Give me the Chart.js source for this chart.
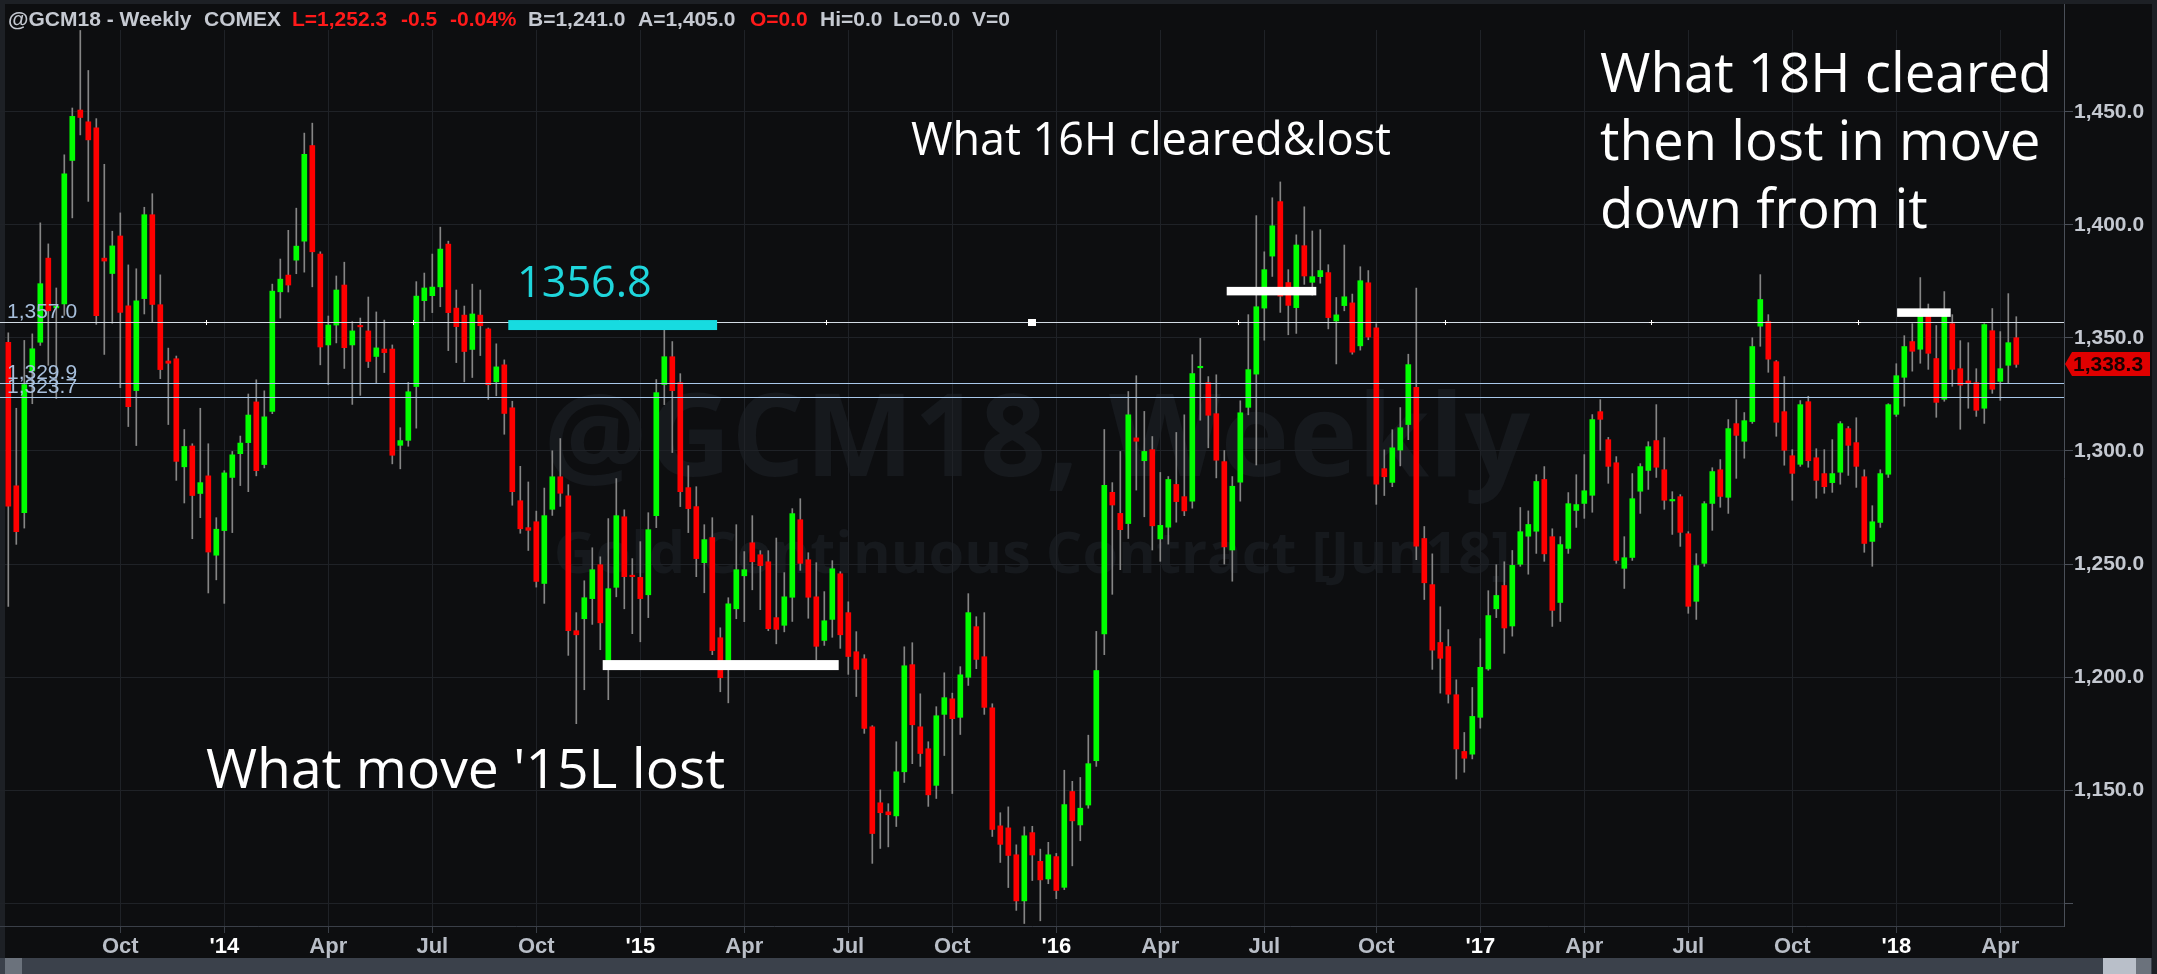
<!DOCTYPE html>
<html>
<head>
<meta charset="utf-8">
<script src="https://cdn.jsdelivr.net/npm/chart.js@4.4.1/dist/chart.umd.min.js"></script>
<style>
  html, body { margin: 0; padding: 0; background: #0d0e10; overflow: hidden; }
  canvas { display: block; }
</style>
</head>
<body>
<canvas id="gc" width="2157" height="974"></canvas>
<script>
// weekly bars, one per Friday starting 2013-06-28
const opens = [
  1348.1,1284.6,1272.7,1335.4,1348.1,1385.3,1363.3,1365.0,1428.5,1450.8,
  1445.6,1442.9,1385.3,1378.5,1395.1,1364.2,1326.7,1367.4,1404.5,1364.7,
  1339.8,1340.8,1293.0,1302.2,1281.2,1289.0,1253.9,1264.8,1288.3,1298.8,
  1303.7,1321.7,1294.0,1317.5,1370.4,1377.8,1384.4,1392.8,1435.1,1387.1,
  1346.9,1355.7,1373.4,1346.9,1355.3,1353.1,1341.8,1345.1,1345.1,1302.5,
  1304.7,1328.5,1366.5,1368.7,1372.6,1391.5,1363.2,1360.1,1344.9,1360.1,
  1354.0,1330.6,1338.1,1319.1,1278.0,1266.1,1268.7,1241.4,1274.2,1288.6,
  1280.2,1220.5,1225.8,1234.7,1249.7,1206.9,1239.7,1270.9,1244.8,1244.1,
  1236.4,1271.4,1329.4,1341.7,1330.2,1283.8,1275.4,1250.6,1261.7,1217.4,
  1206.2,1230.2,1244.8,1259.4,1254.1,1251.0,1226.3,1222.9,1235.3,1269.6,
  1251.9,1235.5,1216.2,1225.5,1245.7,1228.5,1211.2,1208.1,1178.0,1144.4,
  1140.4,1138.6,1158.1,1205.5,1178.0,1168.3,1152.1,1183.5,1190.4,1182.2,
  1199.9,1222.3,1209.0,1186.4,1134.2,1133.3,1121.4,1101.0,1131.2,1118.5,
  1110.7,1120.6,1107.0,1149.4,1134.6,1143.4,1163.0,1219.1,1281.7,1272.4,
  1267.9,1305.8,1295.7,1300.6,1261.1,1266.3,1285.2,1279.8,1277.8,1336.8,
  1330.2,1316.5,1295.3,1256.2,1286.2,1319.3,1334.0,1363.2,1386.2,1410.3,
  1374.5,1363.4,1390.8,1374.6,1377.1,1378.9,1357.5,1364.3,1365.5,1346.5,
  1374.4,1354.5,1292.2,1286.1,1300.4,1311.7,1328.1,1261.3,1240.9,1215.3,
  1213.5,1192.2,1167.1,1165.9,1182.2,1203.6,1230.2,1240.5,1222.6,1249.9,
  1262.3,1264.5,1287.4,1262.1,1233.0,1256.9,1273.7,1276.8,1280.4,1317.4,
  1305.0,1294.8,1248.1,1252.9,1282.2,1291.4,1304.6,1291.7,1277.9,1279.8,
  1263.4,1233.5,1250.3,1276.8,1291.7,1279.5,1312.1,1304.3,1313.0,1355.2,
  1357.2,1339.5,1317.4,1297.9,1294.1,1321.8,1297.0,1290.0,1286.0,1290.6,
  1309.9,1303.7,1288.6,1260.0,1268.4,1289.7,1316.2,1332.6,1348.4,1345.0,
  1361.0,1340.9,1322.9,1356.3,1336.4,1331.0,1330.2,1318.9,1353.2,1330.8,
  1337.9,1350.1
];
const highs = [
  1352.3,1318.9,1348.9,1351.8,1400.9,1391.6,1372.1,1431.0,1451.7,1486.0,
  1468.3,1447.0,1426.8,1397.2,1405.3,1382.3,1380.6,1407.8,1413.8,1377.9,
  1345.5,1342.0,1309.5,1303.2,1318.9,1303.2,1270.5,1291.3,1299.8,1306.6,
  1325.2,1331.5,1326.6,1373.8,1384.9,1397.6,1407.4,1440.6,1445.0,1388.1,
  1359.7,1377.4,1383.5,1357.2,1358.8,1368.1,1361.5,1357.9,1346.9,1310.3,
  1330.3,1374.9,1378.7,1387.1,1399.0,1392.8,1371.2,1364.1,1373.8,1371.2,
  1354.4,1347.4,1340.3,1322.0,1293.2,1286.3,1273.4,1283.6,1300.1,1305.5,
  1285.1,1228.5,1242.6,1257.2,1253.2,1270.1,1287.8,1274.0,1252.4,1259.9,
  1272.7,1331.6,1354.0,1348.4,1334.2,1293.5,1284.2,1267.4,1270.5,1221.8,
  1235.1,1267.4,1255.5,1271.4,1255.9,1255.9,1261.5,1246.2,1274.5,1278.9,
  1255.0,1250.6,1237.8,1251.5,1246.6,1233.3,1220.1,1209.9,1178.5,1150.1,
  1144.0,1171.4,1213.4,1215.2,1192.6,1171.4,1186.9,1201.9,1192.9,1204.6,
  1236.9,1226.7,1228.5,1188.2,1140.0,1142.6,1125.8,1133.8,1134.0,1123.9,
  1126.9,1122.0,1158.8,1153.9,1155.6,1174.3,1220.2,1309.5,1286.0,1299.8,
  1326.3,1333.3,1317.5,1306.4,1290.5,1288.7,1308.2,1316.0,1342.6,1349.8,
  1332.9,1333.7,1300.2,1288.7,1322.2,1360.3,1404.1,1388.1,1412.0,1419.0,
  1380.2,1395.6,1408.0,1397.3,1397.9,1382.4,1367.9,1391.1,1369.4,1381.5,
  1379.8,1356.3,1300.5,1309.4,1319.2,1342.8,1372.1,1266.6,1254.5,1231.1,
  1221.0,1198.8,1175.5,1195.4,1217.0,1238.2,1249.7,1251.0,1256.0,1275.0,
  1273.5,1289.5,1293.1,1265.6,1262.1,1281.6,1289.5,1298.4,1316.1,1322.7,
  1306.0,1297.5,1262.1,1290.0,1294.4,1304.1,1320.5,1305.9,1282.0,1280.7,
  1264.3,1254.6,1277.6,1292.6,1296.2,1313.9,1322.7,1317.0,1350.1,1378.0,
  1360.3,1340.0,1332.9,1300.6,1322.3,1324.2,1301.0,1300.6,1305.0,1313.0,
  1310.8,1314.7,1291.7,1275.8,1291.7,1320.9,1338.6,1351.0,1356.3,1376.7,
  1365.0,1355.5,1370.5,1360.3,1348.8,1347.9,1336.4,1356.3,1363.0,1352.8,
  1369.6,1359.4
];
const lows = [
  1231.2,1258.7,1265.9,1320.9,1346.7,1337.9,1323.2,1360.0,1403.1,1439.8,
  1410.4,1356.0,1342.7,1356.5,1328.0,1310.8,1302.4,1360.6,1357.0,1332.0,
  1311.7,1287.0,1277.0,1261.2,1270.5,1237.2,1243.0,1232.6,1263.9,1284.7,
  1282.0,1289.0,1292.5,1316.5,1358.8,1370.3,1378.4,1379.1,1372.6,1338.1,
  1329.3,1347.8,1336.5,1320.6,1324.6,1336.9,1329.9,1334.7,1294.3,1292.1,
  1302.1,1310.1,1357.5,1361.2,1363.8,1344.4,1339.1,1330.6,1332.5,1342.2,
  1322.8,1324.4,1307.4,1276.0,1263.6,1256.0,1239.8,1232.6,1271.5,1275.5,
  1209.6,1179.4,1194.4,1223.3,1212.1,1190.0,1235.5,1230.2,1219.2,1215.6,
  1226.3,1266.1,1320.5,1299.3,1275.4,1263.9,1244.4,1237.3,1209.9,1193.5,
  1188.6,1225.8,1224.5,1238.6,1229.8,1220.5,1214.7,1220.0,1224.6,1247.2,
  1226.0,1207.7,1214.0,1217.6,1212.7,1201.2,1191.4,1175.1,1117.6,1124.2,
  1124.9,1133.9,1153.4,1161.7,1160.5,1142.8,1146.3,1165.3,1148.5,1174.6,
  1196.3,1203.7,1183.5,1129.5,1118.0,1106.9,1096.8,1091.0,1110.0,1092.2,
  1108.6,1102.0,1106.0,1116.5,1127.6,1142.0,1160.5,1209.9,1236.6,1247.5,
  1261.3,1282.7,1270.9,1256.2,1251.2,1258.8,1268.5,1271.4,1274.7,1313.6,
  1301.4,1288.1,1250.0,1242.4,1277.8,1316.0,1293.8,1349.0,1377.2,1361.3,
  1351.4,1352.0,1373.7,1368.9,1374.2,1354.0,1338.5,1362.0,1342.8,1344.6,
  1349.2,1276.4,1280.3,1284.2,1293.4,1305.0,1251.9,1234.3,1203.4,1192.9,
  1188.5,1154.9,1157.9,1163.8,1177.4,1203.0,1226.3,1210.5,1218.1,1249.0,
  1245.5,1254.7,1251.2,1222.4,1224.6,1254.7,1266.2,1270.2,1272.9,1300.3,
  1285.7,1250.3,1239.2,1251.6,1272.4,1283.0,1288.3,1274.2,1263.1,1257.8,
  1228.2,1225.5,1249.0,1264.9,1275.1,1272.4,1287.9,1296.8,1312.2,1346.3,
  1334.8,1306.5,1293.7,1278.2,1293.2,1292.8,1279.1,1281.3,1281.7,1285.3,
  1289.2,1283.9,1255.2,1249.0,1266.2,1288.3,1315.3,1319.8,1335.3,1338.8,
  1336.1,1314.9,1322.0,1328.6,1309.6,1318.9,1315.3,1312.2,1325.5,1322.4,
  1329.9,1337.0
];
const closes = [
  1275.6,1264.3,1329.4,1345.2,1374.0,1362.0,1364.0,1422.6,1448.0,1447.5,
  1437.6,1359.9,1384.0,1390.7,1361.3,1319.6,1366.4,1404.5,1364.8,1336.0,
  1338.8,1295.4,1302.0,1280.3,1286.0,1255.3,1265.4,1290.3,1298.3,1303.5,
  1315.9,1291.3,1315.1,1370.7,1376.0,1373.4,1390.6,1431.2,1388.1,1346.0,
  1355.7,1371.2,1345.7,1353.1,1354.9,1339.6,1345.6,1343.5,1298.1,1304.6,
  1326.2,1368.5,1372.1,1372.5,1389.3,1361.2,1355.0,1344.0,1360.6,1355.4,
  1329.3,1337.2,1316.6,1282.0,1265.6,1264.9,1242.3,1271.4,1288.6,1281.3,
  1220.5,1218.7,1235.1,1247.5,1224.0,1239.1,1271.4,1244.4,1244.4,1234.7,
  1265.2,1325.8,1341.7,1326.7,1282.0,1274.5,1252.4,1260.8,1211.7,1199.7,
  1232.4,1247.5,1247.5,1251.0,1249.3,1221.4,1221.1,1235.5,1272.3,1250.3,
  1235.3,1213.6,1224.9,1247.9,1218.7,1209.1,1203.4,1177.3,1130.8,1140.0,
  1139.1,1158.1,1205.0,1178.9,1166.2,1147.9,1182.9,1190.9,1181.6,1201.0,
  1228.5,1207.8,1186.6,1132.6,1126.0,1121.1,1101.0,1129.8,1121.3,1110.3,
  1121.4,1105.6,1143.6,1136.4,1142.0,1161.7,1202.9,1284.8,1276.1,1265.2,
  1316.0,1304.3,1299.8,1266.9,1267.1,1287.4,1277.6,1273.5,1334.2,1337.2,
  1315.8,1295.9,1257.6,1284.4,1316.9,1336.0,1363.8,1380.2,1399.6,1368.5,
  1364.4,1391.1,1377.4,1377.1,1379.8,1359.0,1360.2,1368.2,1343.7,1375.3,
  1350.4,1285.3,1288.6,1301.4,1310.3,1338.2,1257.9,1241.7,1211.9,1208.3,
  1192.4,1168.2,1164.1,1182.6,1204.3,1227.2,1236.1,1221.7,1249.4,1264.3,
  1267.5,1286.5,1254.5,1229.5,1258.6,1276.7,1276.3,1282.4,1313.9,1314.0,
  1293.2,1251.6,1252.8,1278.9,1293.1,1301.9,1292.8,1278.2,1278.2,1264.0,
  1231.3,1249.3,1276.7,1290.9,1279.9,1309.9,1306.9,1313.4,1346.2,1367.0,
  1340.6,1312.7,1300.3,1290.1,1320.5,1295.7,1287.0,1284.2,1290.0,1312.1,
  1302.5,1293.2,1259.1,1268.7,1290.0,1320.5,1333.3,1346.2,1344.1,1359.9,
  1343.2,1321.5,1360.3,1336.1,1329.1,1329.9,1318.0,1355.9,1327.3,1336.4,
  1347.9,1338.3
];

// price levels drawn across the chart and their tags
const levelPrices = [1357.0, 1329.9, 1323.7];
// marked ranges: start week, end week, price
const zoneFrom = [62.5, 74.3, 152.3, 236.1];
const zoneTo = [88.6, 103.8, 163.5, 242.8];
const zonePrice = [1355.7, 1205.3, 1370.7, 1361.2];

const yTicks = [1100, 1150, 1200, 1250, 1300, 1350, 1400, 1450];
const monthNames = ['Jan','Feb','Mar','Apr','May','Jun','Jul','Aug','Sep','Oct','Nov','Dec'];

const firstWeek = Date.UTC(2013, 5, 28);
const weeks = opens.map((o, i) => new Date(firstWeek + i * 7 * 86400000));

// quarter starts get an x label
let quarterIdx = [];
let quarterLabels = {};
weeks.forEach((d, i) => {
  if (i < 5) return;
  const m = d.getUTCMonth();
  if (m !== weeks[i - 1].getUTCMonth() && m % 3 === 0) {
    quarterIdx.push(i);
    quarterLabels[i] = m === 0 ? "'" + String(d.getUTCFullYear()).slice(2) : monthNames[m];
  }
});

const fmt = v => v.toLocaleString('en-US', { minimumFractionDigits: 1, maximumFractionDigits: 1 });

const bodyData = opens.map((o, i) => ({ x: i, y: [o, closes[i]] }));
const wickData = lows.map((l, i) => ({ x: i, y: [l, highs[i]] }));
const bodyColors = opens.map((o, i) => closes[i] >= o ? '#00ff00' : '#ff0000');

function fitFont(ctx, text, width, weight, family) {
  ctx.font = weight + ' 100px ' + family;
  const w = ctx.measureText(text).width;
  return weight + ' ' + (100 * width / w).toFixed(1) + 'px ' + family;
}

const backdrop = {
  id: 'backdrop',
  beforeDraw(chart) {
    const ctx = chart.ctx;
    const W = chart.width, H = chart.height;
    ctx.save();
    ctx.fillStyle = '#0d0e10';
    ctx.fillRect(0, 0, W, H);
    // frame strips
    ctx.fillStyle = '#1d2025';
    ctx.fillRect(0, 0, W, 4);
    ctx.fillRect(0, 0, 5, 958);
    ctx.fillRect(W - 5, 0, 5, H);
    // scrollbar
    ctx.fillStyle = '#3b414b';
    ctx.fillRect(0, 958, W - 5, 16);
    ctx.fillStyle = '#6b727c';
    ctx.fillRect(5, 958, 17, 16);
    ctx.fillRect(2136, 958, 15, 16);
    ctx.fillStyle = '#b9bfc9';
    ctx.fillRect(2103, 958, 33, 16);

    // watermark
    ctx.fillStyle = '#16191d';
    ctx.textAlign = 'center';
    ctx.textBaseline = 'alphabetic';
    ctx.font = fitFont(ctx, '@GCM18, Weekly', 986, 'bold', '"Open Sans"');
    ctx.fillText('@GCM18, Weekly', 1037, 476);
    ctx.font = fitFont(ctx, 'Gold Continuous Contract [Jun18]', 956, 'bold', '"Open Sans"');
    ctx.fillText('Gold Continuous Contract [Jun18]', 1032, 573);

    // header line
    ctx.textAlign = 'left';
    ctx.font = 'bold 21px "Liberation Sans", Arial';
    const grey = '#c5c9d1', red = '#ff1a1a';
    [['@GCM18 - Weekly', 8, grey], ['COMEX', 204, grey], ['L=1,252.3', 292, red],
     ['-0.5', 401, red], ['-0.04%', 450, red], ['B=1,241.0', 528, grey],
     ['A=1,405.0', 638, grey], ['O=0.0', 750, red], ['Hi=0.0', 820, grey],
     ['Lo=0.0', 893, grey], ['V=0', 972, grey]].forEach(([t, x, c]) => {
      ctx.fillStyle = c;
      ctx.fillText(t, x, 26);
    });
    // y axis line above the plot
    ctx.fillStyle = '#4a4f58';
    ctx.fillRect(chart.chartArea.right, 4, 1, chart.chartArea.top - 4);
    ctx.restore();
  }
};

const notes = {
  id: 'notes',
  afterDatasetsDraw(chart) {
    const ctx = chart.ctx;
    const xs = chart.scales.x, ys = chart.scales.y;
    const area = chart.chartArea;
    ctx.save();

    // level lines
    levelPrices.forEach((p, k) => {
      const y = Math.round(ys.getPixelForValue(p)) + 0.5;
      ctx.strokeStyle = k === 0 ? '#d3dbe4' : '#a9c8ea';
      ctx.lineWidth = 1;
      ctx.beginPath();
      ctx.moveTo(area.left, y);
      ctx.lineTo(area.right, y);
      ctx.stroke();
    });
    // handles on the first level
    const hy = Math.round(ys.getPixelForValue(levelPrices[0]));
    ctx.fillStyle = '#ffffff';
    for (let k = 1; k < 10; k++) {
      const hx = Math.round(area.left + (area.right - area.left) * k / 10);
      if (k === 5) {
        ctx.fillRect(hx - 4, hy - 3, 8, 7);
      } else {
        ctx.fillRect(hx - 2, hy, 5, 1);
        ctx.fillRect(hx, hy - 2, 1, 5);
      }
    }
    // level tags
    ctx.font = '21px "Liberation Sans", Arial';
    ctx.fillStyle = '#a7bfdc';
    ctx.textAlign = 'left';
    ctx.textBaseline = 'alphabetic';
    levelPrices.forEach(p => {
      ctx.fillText(fmt(p), 7, ys.getPixelForValue(p) - 4);
    });

    // marked ranges
    zoneFrom.forEach((f, k) => {
      const x0 = xs.getPixelForValue(f), x1 = xs.getPixelForValue(zoneTo[k]);
      const yc = ys.getPixelForValue(zonePrice[k]);
      const h = k >= 2 ? 8.5 : 10;
      ctx.fillStyle = k === 0 ? '#17dbe0' : '#ffffff';
      ctx.fillRect(x0, yc - h / 2, x1 - x0, h);
    });

    // cyan price note
    ctx.fillStyle = '#1fd6dc';
    ctx.font = fitFont(ctx, '1356.8', 135, 'normal', '"Open Sans"');
    ctx.fillText('1356.8', 517, 297);

    // commentary
    ctx.fillStyle = '#ffffff';
    ctx.font = fitFont(ctx, "What move '15L lost", 519, 'normal', '"Open Sans"');
    ctx.fillText("What move '15L lost", 206, 788);
    ctx.font = fitFont(ctx, 'What 16H cleared&lost', 480, 'normal', '"Open Sans"');
    ctx.fillText('What 16H cleared&lost', 911, 155);
    ctx.font = fitFont(ctx, 'What 18H cleared', 452, 'normal', '"Open Sans"');
    ctx.fillText('What 18H cleared', 1600, 92);
    ctx.fillText('then lost in move', 1600, 160);
    ctx.fillText('down from it', 1600, 228);
    ctx.restore();
  },
  afterDraw(chart) {
    const ctx = chart.ctx;
    const ys = chart.scales.y;
    const area = chart.chartArea;
    const last = closes[closes.length - 1];
    const y = Math.round(ys.getPixelForValue(last));
    const x = area.right;
    ctx.save();
    ctx.fillStyle = '#e00000';
    ctx.beginPath();
    ctx.moveTo(x + 1, y);
    ctx.lineTo(x + 8, y - 12);
    ctx.lineTo(2150, y - 12);
    ctx.lineTo(2150, y + 12);
    ctx.lineTo(x + 8, y + 12);
    ctx.closePath();
    ctx.fill();
    ctx.fillStyle = '#1a0000';
    ctx.font = 'bold 21px "Liberation Sans", Arial';
    ctx.textAlign = 'left';
    ctx.textBaseline = 'middle';
    ctx.fillText(fmt(last), 2073, y + 1);
    ctx.restore();
  }
};

new Chart(document.getElementById('gc'), {
  type: 'bar',
  data: {
    datasets: [
      { label: 'body', data: bodyData, backgroundColor: bodyColors, barThickness: 5,
        grouped: false, order: 0, minBarLength: 1.5 },
      { label: 'wick', data: wickData, backgroundColor: '#858585', barThickness: 1,
        grouped: false, order: 1 }
    ]
  },
  options: {
    responsive: false,
    animation: false,
    devicePixelRatio: 1,
    events: [],
    layout: { padding: { top: 30, left: 0, right: 0, bottom: 0 } },
    plugins: { legend: { display: false }, tooltip: { enabled: false } },
    scales: {
      x: {
        type: 'linear',
        min: -1.0375,
        max: 256.9625,
        offset: false,
        grid: { color: '#1f2227', offset: false, tickLength: 7, tickColor: '#3a3f47' },
        border: { color: '#3a3f48' },
        afterBuildTicks: s => { s.ticks = quarterIdx.map(v => ({ value: v })); },
        afterFit: s => { s.height = 48; },
        ticks: {
          autoSkip: false,
          maxRotation: 0,
          padding: 1,
          font: { family: '"Liberation Sans", Arial', size: 22, weight: 'bold' },
          color: c => (quarterLabels[c.tick.value] || '').startsWith("'") ? '#ffffff' : '#b9bec7',
          callback: v => quarterLabels[v] || ''
        }
      },
      y: {
        position: 'right',
        min: 1089.9,
        max: 1486.2,
        grid: { color: '#1f2227', tickLength: 9, tickColor: '#4a4f58' },
        border: { color: '#4a4f58' },
        afterBuildTicks: s => { s.ticks = yTicks.map(v => ({ value: v })); },
        afterFit: s => { s.width = 93; },
        ticks: {
          padding: 1,
          font: { family: '"Liberation Sans", Arial', size: 21, weight: 'bold' },
          color: '#c4c8d0',
          callback: v => v === 1100 ? '' : fmt(v)
        }
      }
    }
  },
  plugins: [backdrop, notes]
});
</script>
</body>
</html>
